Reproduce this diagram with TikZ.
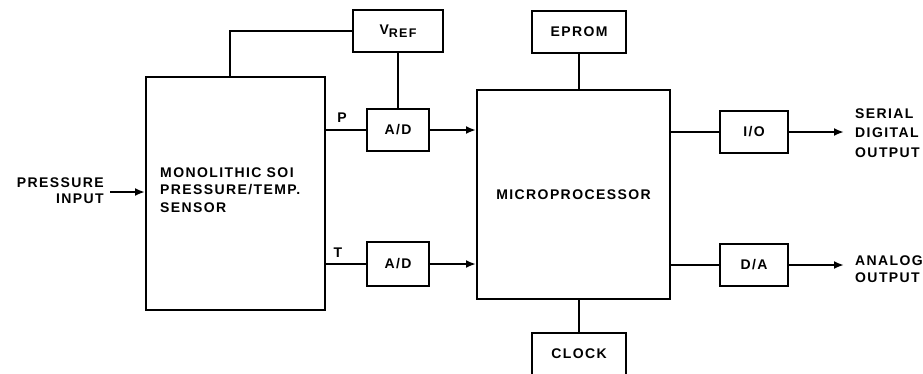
\documentclass[tikz,border=0pt]{standalone}
\usepackage{fontspec}
\setmainfont{Liberation Sans}[LetterSpace=10]
\usetikzlibrary{arrows.meta}
\begin{document}
\begin{tikzpicture}[x=1pt,y=-1pt,
  blk/.style={draw,line width=2pt,inner sep=0pt,font=\fontsize{14}{16}\selectfont\bfseries},
  wire/.style={line width=2pt},
  arr/.style={line width=2pt,-{Latex[length=10pt,width=8pt]}},
  lbl/.style={font=\fontsize{14}{17}\selectfont\bfseries,inner sep=0pt}]
\useasboundingbox (0,0) rectangle (923,373);
% blocks
\node[blk,minimum width=179pt,minimum height=233pt] (sensor) at (235.5,193.5) {};
\node[lbl,anchor=west,align=left,font=\fontsize{14}{17.5}\selectfont\bfseries] (sensortxt) at (160,190) {MONOLITHIC SOI\\PRESSURE/TEMP.\\SENSOR};
\node[blk,minimum width=90pt,minimum height=42pt] (vref) at (398,31) {V\raisebox{-0.35ex}{\fontsize{12.5}{14}\selectfont REF}};
\node[blk,minimum width=62pt,minimum height=42pt] (ad1) at (398,130) {A/D};
\node[blk,minimum width=62pt,minimum height=44pt] (ad2) at (398,264) {A/D};
\node[blk,minimum width=193pt,minimum height=209pt] (micro) at (573.5,194.5) {MICROPROCESSOR};
\node[blk,minimum width=94pt,minimum height=42pt] (eprom) at (579,32) {EPROM};
\node[blk,minimum width=94pt,minimum height=42pt] (clock) at (579,354) {CLOCK};
\node[blk,minimum width=68pt,minimum height=42pt] (io) at (754,132) {I/O};
\node[blk,minimum width=68pt,minimum height=42pt] (da) at (754,265) {D/A};
% external labels
\node[lbl,anchor=east,align=right,font=\fontsize{14}{16}\selectfont\bfseries] (pin) at (104,191) {PRESSURE\\INPUT};
\node[lbl,anchor=west,align=left,font=\fontsize{14}{19.5}\selectfont\bfseries] (sdo) at (855,133) {SERIAL\\DIGITAL\\OUTPUT};
\node[lbl,anchor=west,align=left] (ao) at (855,269) {ANALOG\\OUTPUT};
\node[lbl] (plbl) at (342,118) {P};
\node[lbl] (tlbl) at (338,253) {T};
\coordinate (pinS) at (110,192);
\coordinate (sdoE) at (844,132);
\coordinate (aoE) at (844,265);
% connectors
\draw[wire] (sensor.north -| 230,0) |- (vref.west);
\draw[wire] (vref.south) -- (ad1.north);
\draw[wire] (sensor.east |- ad1.west) -- (ad1.west);
\draw[arr] (ad1.east) -- (ad1.east -| micro.west);
\draw[wire] (sensor.east |- ad2.west) -- (ad2.west);
\draw[arr] (ad2.east) -- (ad2.east -| micro.west);
\draw[wire] (eprom.south) -- (micro.north -| eprom.south);
\draw[wire] (micro.south -| clock.north) -- (clock.north);
\draw[wire] (micro.east |- io.west) -- (io.west);
\draw[arr] (io.east) -- (sdoE);
\draw[wire] (micro.east |- da.west) -- (da.west);
\draw[arr] (da.east) -- (aoE);
\draw[arr] (pinS) -- (pinS -| sensor.west);
\end{tikzpicture}
\end{document}
